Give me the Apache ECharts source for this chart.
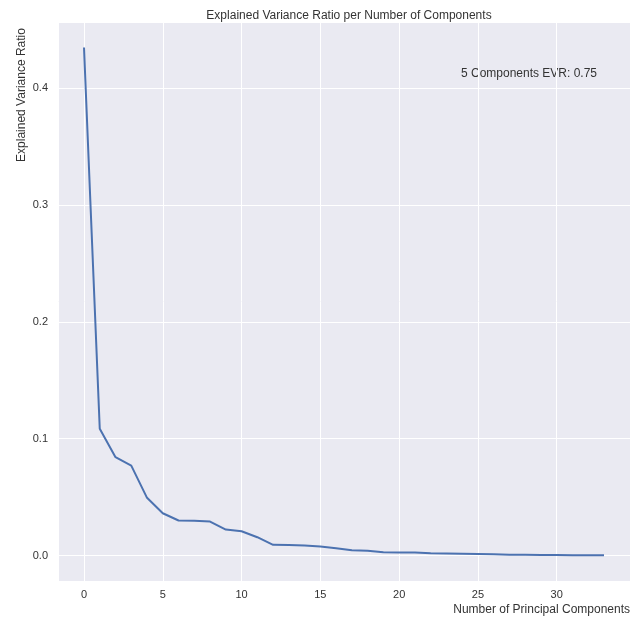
<!DOCTYPE html>
<html>
<head>
<meta charset="utf-8">
<script src="https://cdn.jsdelivr.net/npm/echarts@6/dist/echarts.min.js"></script>
<style>
  html, body { margin: 0; padding: 0; background: #fff; }
  #chart { width: 637px; height: 618px; }
</style>
</head>
<body>
<div id="chart"></div>
<script>
// explained variance ratio of each principal component
const components = [0, 1, 2, 3, 4, 5, 6, 7, 8, 9, 10, 11, 12, 13, 14, 15, 16,
  17, 18, 19, 20, 21, 22, 23, 24, 25, 26, 27, 28, 29, 30, 31, 32, 33]
const evr = [0.435, 0.1085, 0.0842, 0.077, 0.0494, 0.0362, 0.030, 0.0298, 0.0291,
  0.0222, 0.0208, 0.0157, 0.0092, 0.009, 0.0085, 0.0077, 0.0063, 0.0046, 0.004,
  0.0029, 0.0026, 0.0025, 0.002, 0.0018, 0.0016, 0.0013, 0.001, 0.0007, 0.0006,
  0.0005, 0.0004, 0.0003, 0.0003, 0.0002]
const annotation = '5 Components EVR: 0.75'

const font = 'Liberation Sans, Arial, sans-serif'
const textColor = '#333'
const chart = echarts.init(document.getElementById('chart'))

const data = components.map(function (c, i) {
  return [c, evr[i]]
})

const option = {
  backgroundColor: '#fff',
  animation: false,
  title: {
    text: 'Explained Variance Ratio per Number of Components',
    left: 344,
    top: 5,
    textAlign: 'center',
    textStyle: { fontSize: 12, fontWeight: 'normal', color: textColor, fontFamily: font }
  },
  grid: {
    left: 58,
    right: 7,
    top: 22,
    bottom: 37,
    show: true,
    backgroundColor: '#eaeaf2',
    borderWidth: 0,
    containLabel: false,
    outerBoundsMode: 'none'
  },
  xAxis: {
    type: 'value',
    min: -1.65,
    max: 34.65,
    splitNumber: 7,
    axisLine: { show: false },
    axisTick: { show: false },
    axisLabel: {
      showMinLabel: false,
      showMaxLabel: false,
      margin: 8,
      fontSize: 11,
      color: textColor,
      fontFamily: font
    },
    splitLine: { show: true, lineStyle: { color: '#fff', width: 1 } }
  },
  yAxis: {
    type: 'value',
    min: -0.0218,
    max: 0.4568,
    axisLine: { show: false },
    axisTick: { show: false },
    axisLabel: {
      showMinLabel: false,
      showMaxLabel: false,
      margin: 10,
      fontSize: 11,
      color: textColor,
      fontFamily: font,
      formatter: function (v) { return v.toFixed(1) }
    },
    splitLine: { show: true, lineStyle: { color: '#fff', width: 1 } }
  },
  graphic: [{
    type: 'text',
    x: 22,
    y: 95,
    rotation: Math.PI / 2,
    style: {
      text: 'Explained Variance Ratio',
      fontSize: 12,
      fill: textColor,
      fontFamily: font,
      align: 'center',
      verticalAlign: 'middle'
    }
  }, {
    type: 'text',
    x: 630,
    y: 610,
    style: {
      text: 'Number of Principal Components',
      fontSize: 12,
      fill: textColor,
      fontFamily: font,
      align: 'right',
      verticalAlign: 'middle'
    }
  }, {
    type: 'text',
    x: 529,
    y: 74,
    style: {
      text: annotation,
      fontSize: 12,
      fill: textColor,
      fontFamily: font,
      align: 'center',
      verticalAlign: 'middle'
    }
  }],
  series: [{
    type: 'line',
    data: data,
    showSymbol: false,
    color: '#4c72b0',
    lineStyle: { width: 2 }
  }]
}
chart.setOption(option)
</script>
</body>
</html>
